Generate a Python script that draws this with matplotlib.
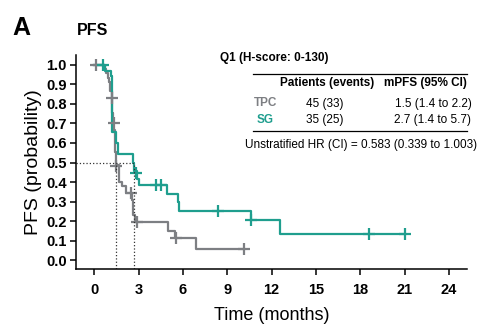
import numpy as np
import matplotlib.pyplot as plt

plt.rcParams['font.family'] = ['Liberation Sans', 'DejaVu Sans']

TEAL = '#1f9e8e'
GREY = '#7d7f83'

# TPC (grey) Kaplan-Meier steps: drop time, survival after the drop
tpc_t = [0, 0.7, 0.8, 0.9, 1.0, 1.1, 1.2, 1.3, 1.4, 1.5, 1.65, 1.85, 2.15,
         2.55, 2.6, 2.65, 2.75, 5.0, 5.45, 6.9]
tpc_s = [1.0, 0.978, 0.956, 0.933, 0.911, 0.867, 0.756, 0.667, 0.556, 0.489,
         0.40, 0.378, 0.345, 0.31, 0.27, 0.23, 0.195, 0.148, 0.113, 0.058]
tpc_end = 10.1
tpc_cens_t = [0.1, 1.22, 1.35, 1.5, 2.5, 2.88, 5.5, 10.1]
tpc_cens_s = [1.0, 0.83, 0.70, 0.482, 0.345, 0.195, 0.113, 0.058]

# SG (teal)
sg_t = [0, 0.7, 1.15, 1.22, 1.5, 1.6, 2.6, 2.7, 2.9, 3.05, 4.9, 5.65, 5.75,
        10.6, 12.55]
sg_s = [1.0, 0.971, 0.943, 0.657, 0.60, 0.543, 0.50, 0.457, 0.414, 0.385,
        0.337, 0.296, 0.253, 0.203, 0.135]
sg_end = 21.0
sg_cens_t = [0.6, 2.82, 4.2, 4.55, 8.4, 10.6, 18.6, 21.0]
sg_cens_s = [1.0, 0.445, 0.385, 0.385, 0.253, 0.203, 0.135, 0.135]

median_tpc = 1.5
median_sg = 2.7

fig = plt.figure(figsize=(4.95, 3.31), dpi=100)
ax = fig.add_axes([0.1545, 0.187, 0.7885, 0.647])

ax.step(tpc_t + [tpc_end], tpc_s + [tpc_s[-1]], where='post', color=GREY, lw=1.6)
ax.step(sg_t + [sg_end], sg_s + [sg_s[-1]], where='post', color=TEAL, lw=1.6)
ax.plot(tpc_cens_t, tpc_cens_s, ls='none', marker='+', ms=8, mew=1.6, color=GREY)
ax.plot(sg_cens_t, sg_cens_s, ls='none', marker='+', ms=8, mew=1.6, color=TEAL)

# median lines
ax.plot([-1.2, median_sg], [0.5, 0.5], ls=':', color='#333333', lw=0.9)
ax.plot([median_tpc, median_tpc], [-0.046, 0.5], ls=':', color='#333333', lw=0.9)
ax.plot([median_sg, median_sg], [-0.046, 0.5], ls=':', color='#333333', lw=0.9)

ax.set_xlim(-1.2, 25.2)
ax.set_ylim(-0.046, 1.051)
ax.set_xticks(np.arange(0, 25, 3))
ax.set_yticks(np.arange(0, 1.01, 0.1))
ax.set_yticklabels([f'{v:.1f}' for v in np.arange(0, 1.01, 0.1)])
for s in ['top', 'right']:
    ax.spines[s].set_visible(False)
for s in ['left', 'bottom']:
    ax.spines[s].set_linewidth(1.1)
ax.tick_params(width=1.1, length=4, labelsize=10.5)
for lab in ax.get_xticklabels() + ax.get_yticklabels():
    lab.set_fontweight('bold')
ax.tick_params(axis='x', pad=6)
ax.tick_params(axis='y', pad=3)
ax.set_xlabel('Time (months)', fontsize=13, labelpad=7)
ax.set_ylabel('PFS (probability)', fontsize=14, labelpad=3)

fig.text(12 / 495, 1 - 35 / 331, 'A', fontsize=18, fontweight='bold')
fig.text(77 / 495, 1 - 35 / 331, 'PFS', fontsize=11.5, fontweight='bold')

# inset table
def fx(px):
    return px / 495

def fy(py):
    return 1 - py / 331

fs = 8.5
fig.text(fx(220), fy(61.5), 'Q1 (H-score: 0-130)', fontsize=fs, fontweight='bold')
fig.add_artist(plt.Line2D([fx(253), fx(467)], [fy(74), fy(74)], color='black', lw=0.9))
fig.add_artist(plt.Line2D([fx(253), fx(467)], [fy(131), fy(131)], color='black', lw=0.9))
fig.text(fx(327), fy(86), 'Patients (events)', fontsize=fs, fontweight='bold', ha='center')
fig.text(fx(467), fy(86), 'mPFS (95% CI)', fontsize=fs, fontweight='bold', ha='right')
fig.text(fx(254), fy(106.5), 'TPC', fontsize=fs, fontweight='bold', color=GREY)
fig.text(fx(325), fy(106.5), '45 (33)', fontsize=fs, ha='center')
fig.text(fx(471.5), fy(106.5), '1.5 (1.4 to 2.2)', fontsize=fs, ha='right')
fig.text(fx(256.5), fy(123.5), 'SG', fontsize=fs, fontweight='bold', color=TEAL)
fig.text(fx(325), fy(123.5), '35 (25)', fontsize=fs, ha='center')
fig.text(fx(471.5), fy(123.5), '2.7 (1.4 to 5.7)', fontsize=fs, ha='right')
fig.text(fx(361), fy(148), 'Unstratified HR (CI) = 0.583 (0.339 to 1.003)', fontsize=fs, ha='center')

fig.savefig('out.png', dpi=100)
